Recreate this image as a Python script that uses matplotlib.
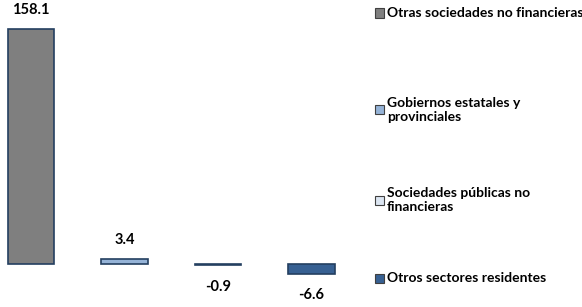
import matplotlib.pyplot as plt
from matplotlib.patches import Rectangle

sectores = ["Otras sociedades no financieras",
            "Gobiernos estatales y\nprovinciales",
            "Sociedades públicas no\nfinancieras",
            "Otros sectores residentes"]
valores = [158.1, 3.4, -0.9, -6.6]
colores = ["#7f7f7f", "#95b3d7", "#dce6f2", "#376092"]
borde = "#243f60"

plt.rcParams['font.family'] = ['Lato', 'DejaVu Sans']

fig = plt.figure(figsize=(5.82, 3.07), dpi=100)
W, H = 582, 307
ax = fig.add_axes([0, 0, 350 / W, 1])

x = list(range(len(valores)))
ax.bar(x, valores, width=0.5, color=colores, edgecolor=borde, linewidth=1.2)
ax.set_xlim(-31 / 93.5, (350 - 31) / 93.5)
ax.set_ylim(-(307 - 264) / 1.487, 264 / 1.487)
ax.axis('off')

for xi, v in zip(x, valores):
    dy = 13.5 if v >= 0 else -15.5
    ax.annotate(f"{v:.1f}", (xi, v), xytext=(0, dy), textcoords='offset points',
                ha='center', va='center', fontsize=10.5, fontweight='bold')

# leyenda manual
y_items = [13, 110, 200, 278]
for lab, c, yy in zip(sectores, colores, y_items):
    fig.patches.append(Rectangle((375 / W, 1 - (yy + 4.5) / H), 9 / W, 9 / H,
                                 transform=fig.transFigure, facecolor=c,
                                 edgecolor="#404040", linewidth=0.8))
    fig.text(387 / W, 1 - yy / H, lab, ha='left', va='center', fontsize=10,
             fontweight='bold', linespacing=1.25)

fig.savefig("out.png", dpi=100)
